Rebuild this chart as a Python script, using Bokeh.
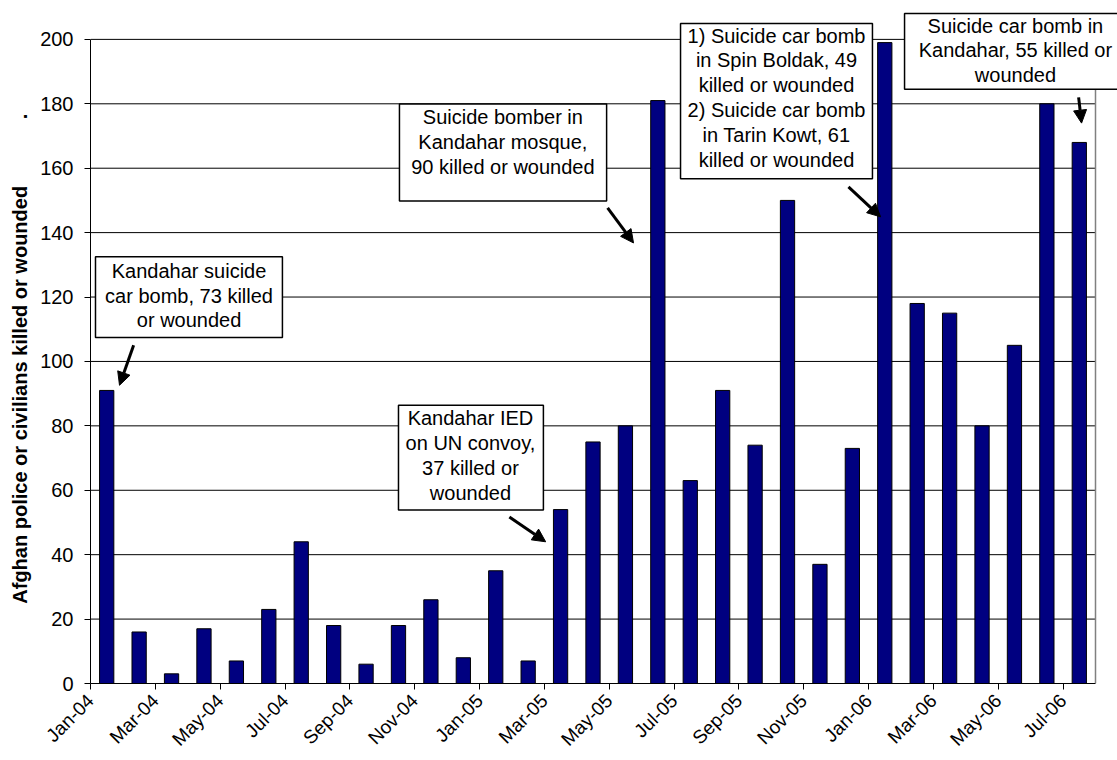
import math
from bokeh.plotting import figure
from bokeh.models import (Range1d, FixedTicker, Label, Arrow, NormalHead,
                          BoxAnnotation, ColumnDataSource)
from bokeh.embed import file_html
from bokeh.resources import INLINE

# ---------------- data ----------------
months = ["Jan-04", "Feb-04", "Mar-04", "Apr-04", "May-04", "Jun-04", "Jul-04",
          "Aug-04", "Sep-04", "Oct-04", "Nov-04", "Dec-04",
          "Jan-05", "Feb-05", "Mar-05", "Apr-05", "May-05", "Jun-05", "Jul-05",
          "Aug-05", "Sep-05", "Oct-05", "Nov-05", "Dec-05",
          "Jan-06", "Feb-06", "Mar-06", "Apr-06", "May-06", "Jun-06", "Jul-06"]
casualties = [91, 16, 3, 17, 7, 23, 44, 18, 6, 18, 26, 8,
              35, 7, 54, 75, 80, 181, 63, 91, 74, 150, 37, 73,
              199, 118, 115, 80, 105, 180, 168]
tick_labels = ["Jan-04", "Mar-04", "May-04", "Jul-04", "Sep-04", "Nov-04",
               "Jan-05", "Mar-05", "May-05", "Jul-05", "Sep-05", "Nov-05",
               "Jan-06", "Mar-06", "May-06", "Jul-06"]
y_ticks = [0, 20, 40, 60, 80, 100, 120, 140, 160, 180, 200]
y_title = "Afghan police or civilians killed or wounded"

note_jan04 = ["Kandahar suicide", "car bomb, 73 killed", "or wounded"]
note_jun05 = ["Suicide bomber in", "Kandahar mosque,", "90 killed or wounded"]
note_jan06 = ["1) Suicide car bomb", "in Spin Boldak, 49", "killed or wounded",
              "2) Suicide car bomb", "in Tarin Kowt, 61", "killed or wounded"]
note_jul06 = ["Suicide car bomb in", "Kandahar, 55 killed or", "wounded"]
note_mar05 = ["Kandahar IED", "on UN convoy,", "37 killed or", "wounded"]

FONT = "Liberation Sans"
N = len(months)
Y_MAX = y_ticks[-1]
PX_X = 32.42   # pixels per month
PX_Y = 3.23    # pixels per casualty
LEFT, TOP_PAD, RIGHT_PAD, BOTTOM = 90, 39, 22, 75
W, H = 1117, 760

# ---------------- figure ----------------
# the frame reaches the top/right canvas edges so the call-out boxes that sit
# above the 200 line are not clipped; axes are bounded to the data range.
p = figure(width=W, height=H, output_backend="svg", toolbar_location=None,
           x_range=Range1d(0, N + RIGHT_PAD / PX_X),
           y_range=Range1d(0, Y_MAX + TOP_PAD / PX_Y),
           min_border_left=LEFT, min_border_right=0, min_border_top=0,
           min_border_bottom=BOTTOM, background_fill_color="white",
           border_fill_color="white")
p.outline_line_color = None
p.xgrid.grid_line_color = None
p.ygrid.grid_line_color = None

# horizontal grid lines and right border of the plot area
gy = y_ticks[1:]
p.segment(x0=[0] * len(gy), x1=[N] * len(gy), y0=gy, y1=gy,
          line_color="black", line_width=1)
p.segment(x0=[N], x1=[N], y0=[0], y1=[Y_MAX], line_color="#808080", line_width=1.5)

src = ColumnDataSource(dict(x=[i + 0.5 for i in range(N)],
                            top=casualties, month=months))
p.vbar(x="x", top="top", bottom=0, width=0.44, source=src,
       fill_color="#000080", line_color="black", line_width=1)

# axes
tick_pos = [2 * i for i in range(len(tick_labels))]
p.xaxis.bounds = (0, N)
p.xaxis.ticker = FixedTicker(ticks=tick_pos)
p.xaxis.major_label_overrides = {t: lab for t, lab in zip(tick_pos, tick_labels)}
p.xaxis.major_label_orientation = math.pi / 4
p.xaxis.major_label_text_font = FONT
p.xaxis.major_label_text_font_size = "19px"
p.xaxis.major_label_text_color = "black"
p.xaxis.major_label_standoff = 8
p.xaxis.minor_tick_line_color = None
p.xaxis.major_tick_in = 0
p.xaxis.major_tick_out = 6
p.xaxis.axis_line_color = "black"
p.xaxis.major_tick_line_color = "black"

NB = "\u00a0"
p.yaxis.bounds = (0, Y_MAX)
p.yaxis.ticker = FixedTicker(ticks=y_ticks)
p.yaxis.major_label_text_font = FONT
p.yaxis.major_label_text_font_size = "20px"
p.yaxis.major_label_text_color = "black"
p.yaxis.major_label_standoff = 11
p.yaxis.minor_tick_line_color = None
p.yaxis.major_tick_in = 0
p.yaxis.major_tick_out = 6
p.yaxis.axis_line_color = "black"
p.yaxis.major_tick_line_color = "black"
p.yaxis.axis_label = y_title + NB * 12 + "." + NB * 6
p.yaxis.axis_label_text_font = FONT
p.yaxis.axis_label_text_font_size = "20px"
p.yaxis.axis_label_text_font_style = "bold"
p.yaxis.axis_label_text_color = "black"
p.yaxis.axis_label_standoff = 6

# ---------------- call-out boxes ----------------
LINE = 25 / PX_Y  # line spacing in data units


def note(lines, left, right, top, bottom, cx, y0):
    p.add_layout(BoxAnnotation(left=left, right=right, top=top, bottom=bottom,
                               fill_color="white", fill_alpha=1.0,
                               line_color="black", line_width=1.5,
                               line_alpha=1.0))
    for k, t in enumerate(lines):
        p.add_layout(Label(x=cx, y=y0 - k * LINE, text=t, text_font=FONT,
                           text_font_size="20px", text_color="black",
                           text_align="center", text_baseline="middle"))


def arrow(x0, y0, x1, y1):
    p.add_layout(Arrow(x_start=x0, y_start=y0, x_end=x1, y_end=y1,
                       line_width=3, line_color="black",
                       end=NormalHead(size=13, fill_color="black",
                                      line_color="black")))


note(note_jan04, 0.154, 5.92, 132.5, 107.4, 3.04, 128.2)
note(note_jun05, 9.53, 15.92, 179.9, 149.8, 12.72, 175.9)
note(note_jan06, 18.20, 24.12, 204.95, 156.7, 21.16, 201.2)
note(note_jul06, 25.11, 32.2, 208.0, 184.5, 28.53, 204.3)
note(note_mar05, 9.50, 13.97, 86.4, 53.9, 11.72, 82.4)

arrow(1.33, 105.0, 0.895, 92.6)
arrow(15.95, 147.7, 16.75, 136.8)
arrow(23.38, 154.2, 24.37, 144.9)
arrow(30.48, 182.0, 30.57, 174.0)
arrow(12.92, 51.7, 14.04, 44.0)

open("out.html", "w").write(file_html(p, INLINE))
